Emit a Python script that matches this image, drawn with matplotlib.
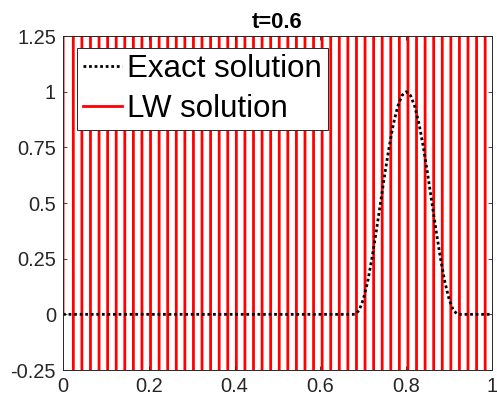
import numpy as np
import matplotlib
matplotlib.use('Agg')
import matplotlib.pyplot as plt

plt.rcParams['font.family'] = ['Liberation Sans', 'DejaVu Sans']

# grid and Lax-Wendroff solution (blown up, alternating sign)
x_lw = np.linspace(0, 1, 51)
u_lw = [0.0,
        1.0e2, -4.0e2, 1.6e3, -6.4e3, 2.56e4, -1.02e5, 4.1e5, -1.64e6, 6.55e6, -2.62e7,
        1.05e8, -4.19e8, 1.68e9, -6.71e9, 2.68e10, -1.07e11, 4.29e11, -1.72e12, 6.87e12, -2.75e13,
        1.1e14, -4.4e14, 1.76e15, -7.04e15, 2.81e16, -1.13e17, 4.5e17, -1.8e18, 7.21e18, -2.88e19,
        1.15e20, -4.61e20, 1.84e21, -7.38e21, 2.95e22, -1.18e23, 4.72e23, -1.89e24, 7.56e24, -3.02e25,
        1.21e26, -4.84e26, 1.93e27, -7.74e27, 3.1e28, -1.24e29, 4.95e29, -1.98e30, 7.92e30, -3.17e31]

# exact solution: bump centred at 0.8
x_ex = [0.0, 0.68, 0.69, 0.70, 0.71, 0.72, 0.73, 0.74, 0.75, 0.76, 0.77, 0.78, 0.79, 0.80,
        0.81, 0.82, 0.83, 0.84, 0.85, 0.86, 0.87, 0.88, 0.89, 0.90, 0.91, 0.92, 1.0]
u_ex = [0.0, 0.0, 0.017, 0.067, 0.146, 0.25, 0.371, 0.5, 0.629, 0.75, 0.854, 0.933, 0.983, 1.0,
        0.983, 0.933, 0.854, 0.75, 0.629, 0.5, 0.371, 0.25, 0.146, 0.067, 0.017, 0.0, 0.0]

xticks = [0, 0.2, 0.4, 0.6, 0.8, 1]
xlabels = ['0', '0.2', '0.4', '0.6', '0.8', '1']
yticks = [-0.25, 0, 0.25, 0.5, 0.75, 1, 1.25]
ylabels = ['-0.25', '0', '0.25', '0.5', '0.75', '1', '1.25']

fig = plt.figure(figsize=(4.97, 4.07), dpi=100)
ax = fig.add_axes([0.1268, 0.0909, 0.8632, 0.8206])

l_lw, = ax.plot(x_lw, u_lw, color='r', lw=2, zorder=1, label='LW solution')
l_ex, = ax.plot(x_ex, u_ex, color='k', lw=2, linestyle=(0, (1, 1)), zorder=2,
                label='Exact solution')

ax.set_xlim(0, 1)
ax.set_ylim(-0.25, 1.25)
ax.set_xticks(xticks, xlabels)
ax.set_yticks(yticks, ylabels)
ax.tick_params(direction='in', length=3, width=0.6, colors='0.15', labelsize=14.4,
               top=True, right=True, pad=5)
for s in ax.spines.values():
    s.set_color('0.15')
    s.set_linewidth(0.7)

ax.set_title('t=0.6', fontsize=15.8, fontweight='bold', pad=6)

leg = ax.legend([l_ex, l_lw], ['Exact solution', 'LW solution'],
                loc='upper left', bbox_to_anchor=(0.0326, 0.964), borderaxespad=0,
                fontsize=22.5, handlelength=1.25, handletextpad=0.15, borderpad=0.2,
                labelspacing=0.3, fancybox=False, framealpha=1, edgecolor='0.15')
leg.get_frame().set_linewidth(0.7)

fig.savefig('out.png', dpi=100)
